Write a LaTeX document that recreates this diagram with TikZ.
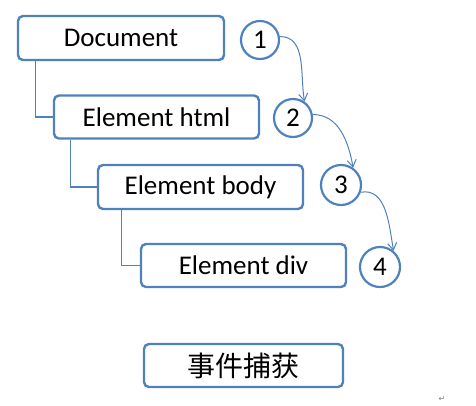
\documentclass[tikz,border=0pt]{standalone}
\usepackage{fontspec}
\setmainfont{Carlito}
\newfontfamily\cjk{Noto Sans CJK SC}
\newfontfamily\dejavu{DejaVu Sans}
\usetikzlibrary{arrows.meta}
\definecolor{bordblue}{RGB}{79,129,189}
\tikzset{
  treebox/.style={draw=bordblue, line width=2.4pt, rounded corners=5pt, fill=white,
    minimum width=205pt, minimum height=43pt, inner sep=0pt, font=\fontsize{27}{30}\selectfont},
  numcirc/.style={draw=bordblue, line width=2.2pt, circle, minimum size=38pt, inner sep=0pt,
    font=\fontsize{27}{30}\selectfont},
  treeline/.style={draw=bordblue, line width=1.3pt},
  flowarrow/.style={draw=bordblue, line width=1pt, -{Straight Barb[length=7pt,width=9pt]}}
}
\begin{document}
\begin{tikzpicture}[x=1pt,y=-1pt]
\useasboundingbox (0,0) rectangle (476,405);
\node[treebox, minimum width=206pt, minimum height=44pt] (doc) at (121,38) {Document};
\node[treebox] (html) at (156.5,117) {Element html};
\node[treebox, minimum height=44pt] (body) at (200.5,187) {Element body};
\node[treebox] (div) at (243.5,265.5) {Element div};
% tree connectors
\draw[treeline] ([xshift=19pt]doc.south west) |- (html.west);
\draw[treeline] ([xshift=18pt]html.south west) |- (body.west);
\draw[treeline] ([xshift=25pt]body.south west) |- (div.west);
% circles
\node[numcirc] (c1) at (260,40) {1};
\node[numcirc] (c2) at (293,118) {2};
\node[numcirc, minimum size=40pt] (c3) at (341,185) {3};
\node[numcirc, minimum size=40pt] (c4) at (380,267) {4};
% arrows
\draw[flowarrow] (c1.10) to[out=0, in=100] (c2.55);
\draw[flowarrow] (c2.10) to[out=0, in=100] (c3.55);
\draw[flowarrow] (c3.-20) to[out=10, in=100] (c4.50);
% caption
\node[treebox, minimum width=199pt, font=\cjk\fontsize{28}{32}\selectfont] (cap) at (243.5,365.5) {事件捕获};
% paragraph mark
\node[font=\dejavu\fontsize{8}{9}\selectfont, text=gray, inner sep=0pt] (pm) at (442,399) {↵};
\end{tikzpicture}
\end{document}
